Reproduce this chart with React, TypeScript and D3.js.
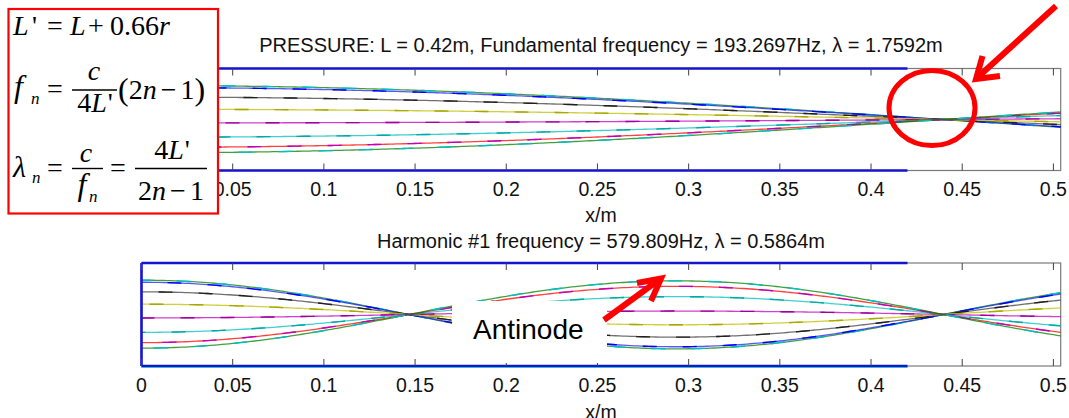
import React, { useEffect, useRef } from 'react';
import * as d3 from 'd3';

// values
const tickValues = [0, 0.05, 0.1, 0.15, 0.2, 0.25, 0.3, 0.35, 0.4, 0.45, 0.5];
const xMax = 0.504;
const pipeLength = 0.42;
// wavelengths given in the two titles
const wavelengths = [1.7592, 0.5864];
// amplitude of every snapshot (cos(wt)) at x = 0
const phaseLevels = [1.0, 0.94, 0.66, 0.3, -0.1, -0.52, -0.82, -0.98];
const lineColors = ['#008000', '#2020ff', '#404040', '#bfbf00', '#bf00bf', '#00bfbf', '#ff0000', '#008000'];
const dashColors = ['#00bfbf', '#0000ff', '#202020', '#a8a800', '#a000a0', '#00a8a8', '#bf00bf', '#00bfbf'];
const titles = [
  'PRESSURE: L = 0.42m, Fundamental frequency = 193.2697Hz, \u03bb = 1.7592m',
  'Harmonic #1 frequency = 579.809Hz, \u03bb = 0.5864m',
];

const W = 1069;
const H = 418;
const boxRight = 218;

export default function App() {
  const ref = useRef<SVGGElement>(null);

  useEffect(() => {
    const svg = d3.select(ref.current);
    svg.selectAll('*').remove();

    const x = d3.scaleLinear().domain([0, xMax]).range([141.5, 1060.7]);
    const panels = [
      { top: 68.5, bottom: 170.5, titleY: 51.7, tickY: 195.5, labelY: 221.5 },
      { top: 263, bottom: 366, titleY: 248.3, tickY: 392, labelY: 418.5 },
    ];
    const xs = d3.range(0, xMax + 1e-9, 0.002);

    panels.forEach((p, pi) => {
      const y = d3.scaleLinear().domain([-1.5, 1.5]).range([p.bottom, p.top]);
      const g = svg.append('g');
      const k = (2 * Math.PI) / wavelengths[pi];

      // frame
      g.append('rect')
        .attr('x', x(0)).attr('y', p.top)
        .attr('width', x(xMax) - x(0)).attr('height', p.bottom - p.top)
        .attr('fill', 'white').attr('stroke', '#7a7a7a').attr('stroke-width', 1.2);

      // snapshots of the standing wave
      phaseLevels.forEach((a, i) => {
        const line = d3.line<number>()
          .x((d) => x(d))
          .y((d) => y(a * Math.cos(k * d)));
        g.append('path').datum(xs).attr('d', line)
          .attr('fill', 'none').attr('stroke', lineColors[i])
          .attr('stroke-width', 1.3).attr('opacity', 0.75);
        g.append('path').datum(xs).attr('d', line)
          .attr('fill', 'none').attr('stroke', dashColors[i])
          .attr('stroke-width', 1.4)
          .attr('stroke-dasharray', '14 26')
          .attr('stroke-dashoffset', i * 9 + pi * 5);
      });

      // pipe walls
      g.append('line')
        .attr('x1', x(0)).attr('x2', x(pipeLength))
        .attr('y1', p.top).attr('y2', p.top)
        .attr('stroke', '#1515d0').attr('stroke-width', 2.6);
      g.append('line')
        .attr('x1', x(0)).attr('x2', x(pipeLength))
        .attr('y1', p.bottom).attr('y2', p.bottom)
        .attr('stroke', '#1515d0').attr('stroke-width', 2.6);
      if (pi === 1) {
        g.append('line')
          .attr('x1', x(0)).attr('x2', x(0))
          .attr('y1', p.top).attr('y2', p.bottom)
          .attr('stroke', '#1515d0').attr('stroke-width', 2.6);
        g.append('line')
          .attr('x1', x(0)).attr('x2', x(pipeLength))
          .attr('y1', p.bottom + 1.5).attr('y2', p.bottom + 1.5)
          .attr('stroke', '#30c0d0').attr('stroke-width', 1);
      }

      // inward ticks
      tickValues.forEach((t) => {
        g.append('line').attr('x1', x(t)).attr('x2', x(t))
          .attr('y1', p.top).attr('y2', p.top + 7)
          .attr('stroke', '#404040').attr('stroke-width', 1);
        g.append('line').attr('x1', x(t)).attr('x2', x(t))
          .attr('y1', p.bottom).attr('y2', p.bottom - 7)
          .attr('stroke', '#404040').attr('stroke-width', 1);
      });

      // the formula box hides the top panel's first label
      const shown = pi === 0 ? tickValues.filter((t) => x(t) + 18 > boxRight) : tickValues;
      g.selectAll('text.tick').data(shown).enter().append('text')
        .attr('x', (d) => x(d)).attr('y', p.tickY)
        .attr('text-anchor', 'middle')
        .attr('font-family', 'Liberation Sans, Arial, sans-serif')
        .attr('font-size', 19.5).attr('fill', '#111')
        .text((d) => String(d));

      g.append('text').attr('x', 601).attr('y', p.labelY)
        .attr('text-anchor', 'middle')
        .attr('font-family', 'Liberation Sans, Arial, sans-serif')
        .attr('font-size', 19.5).attr('fill', '#111').text('x/m');

      g.append('text').attr('x', 601).attr('y', p.titleY)
        .attr('text-anchor', 'middle')
        .attr('font-family', 'Liberation Sans, Arial, sans-serif')
        .attr('font-size', 20).attr('fill', '#111').text(titles[pi]);
    });

    // "Antinode" label box
    svg.append('rect').attr('x', 452).attr('y', 301).attr('width', 155).attr('height', 62)
      .attr('fill', 'white');
    svg.append('text').attr('x', 473).attr('y', 338.5)
      .attr('font-family', 'Liberation Sans, Arial, sans-serif')
      .attr('font-size', 28).attr('fill', '#000').text('Antinode');

    // red annotations
    const red = '#f00';
    svg.append('line').attr('x1', 604).attr('y1', 320).attr('x2', 658).attr('y2', 280.5)
      .attr('stroke', red).attr('stroke-width', 6);
    svg.append('path').attr('d', 'M637,283 L661,278.5 L651,301')
      .attr('fill', 'none').attr('stroke', red).attr('stroke-width', 6)
      .attr('stroke-linejoin', 'miter');
    svg.append('line').attr('x1', 1056).attr('y1', 6).attr('x2', 978).attr('y2', 77)
      .attr('stroke', red).attr('stroke-width', 6);
    svg.append('path').attr('d', 'M982.5,56 L976,79 L1000,76')
      .attr('fill', 'none').attr('stroke', red).attr('stroke-width', 6)
      .attr('stroke-linejoin', 'miter');
    svg.append('ellipse').attr('cx', 932).attr('cy', 108).attr('rx', 43).attr('ry', 37.5)
      .attr('fill', 'none').attr('stroke', red).attr('stroke-width', 5);
  }, []);

  const serif = 'Liberation Serif, Times New Roman, serif';
  const it = { fontStyle: 'italic' as const };

  return (
    <svg width={W} height={H}
      style={{ position: 'absolute', left: 0, top: 0, background: 'white' }}>
      <g ref={ref} />
      <FormulaBox serif={serif} it={it} />
    </svg>
  );
}

function FormulaBox({ serif, it }: { serif: string; it: React.CSSProperties }) {
  return (
    <g fontFamily={serif} fill="#000">
      <rect x={8.5} y={9} width={boxRight - 8.5} height={204.5} fill="white" stroke="#f00" strokeWidth={2.2} />
      {/* L' = L + 0.66r */}
      <text x={13} y={35} fontSize={28}>
        <tspan style={it}>L</tspan>
        <tspan x={32}>'</tspan>
        <tspan x={47}>=</tspan>
        <tspan x={70} style={it}>L</tspan>
        <tspan x={88}>+</tspan>
        <tspan x={110}>0.66</tspan>
        <tspan style={it}>r</tspan>
      </text>
      {/* f_n = c / 4L' (2n - 1) */}
      <text x={14} y={97} fontSize={32} style={it}>f</text>
      <text x={31} y={104} fontSize={17} style={it}>n</text>
      <text x={47} y={98} fontSize={28}>=</text>
      <text x={94} y={80} fontSize={28} textAnchor="middle" style={it}>c</text>
      <line x1={72} x2={117} y1={90} y2={90} stroke="#000" strokeWidth={1.4} />
      <text x={95} y={112} fontSize={28} textAnchor="middle">
        4<tspan style={it}>L</tspan><tspan dx={1}>'</tspan>
      </text>
      <text x={118} y={99} fontSize={28}>
        <tspan fontSize={32} dy={1}>(</tspan>
        <tspan dy={-1}>2</tspan>
        <tspan style={it}>n</tspan>
        <tspan dx={4}>{'\u2212'}</tspan>
        <tspan dx={4}>1</tspan>
        <tspan fontSize={32} dy={1}>)</tspan>
      </text>
      {/* lambda_n = c / f_n = 4L' / (2n - 1) */}
      <text x={13} y={177} fontSize={30} style={it}>{'\u03bb'}</text>
      <text x={32} y={183} fontSize={17} style={it}>n</text>
      <text x={47} y={177} fontSize={28}>=</text>
      <text x={86} y={162} fontSize={28} textAnchor="middle" style={it}>c</text>
      <line x1={72} x2={103} y1={168.5} y2={168.5} stroke="#000" strokeWidth={1.4} />
      <text x={82} y={195} fontSize={32} textAnchor="middle" style={it}>f</text>
      <text x={89} y={202} fontSize={17} style={it}>n</text>
      <text x={110} y={177} fontSize={28}>=</text>
      <text x={172} y={158.5} fontSize={28} textAnchor="middle">
        4<tspan style={it}>L</tspan><tspan dx={1}>'</tspan>
      </text>
      <line x1={135} x2={207} y1={168.5} y2={168.5} stroke="#000" strokeWidth={1.4} />
      <text x={171} y={200} fontSize={28} textAnchor="middle">
        2<tspan style={it}>n</tspan>
        <tspan dx={4}>{'\u2212'}</tspan>
        <tspan dx={4}>1</tspan>
      </text>
    </g>
  );
}
